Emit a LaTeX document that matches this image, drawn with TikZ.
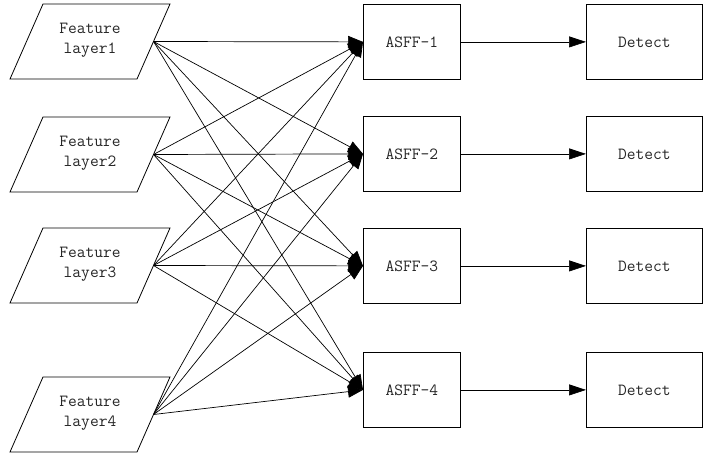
\documentclass[tikz,border=0pt]{standalone}
\usepackage{fontspec}
\usetikzlibrary{arrows.meta}
\begin{document}
\begin{tikzpicture}[x=1pt,y=-1pt,
  txt/.style={font=\ttfamily\fontsize{17}{20}\selectfont, align=center, text=black!85},
  box/.style={draw, line width=0.8pt, minimum width=97pt, minimum height=75pt, inner sep=0pt, txt},
  conn/.style={line width=0.7pt, -{Triangle[length=15pt,width=12pt]}},
  conn2/.style={line width=0.7pt, -{Triangle[length=17pt,width=11pt]}},
  para/.style={line width=0.8pt}]
\useasboundingbox (0,0) rectangle (703,454);
% feature layers
\foreach \i/\t in {1/4,2/117,3/228,4/377}{
  \draw[para] (43,\t) -- (170,\t) -- (137,\t+75) -- (10,\t+75) -- cycle;
  \node[txt] (f\i) at (90,\t+36) {Feature\\layer\i};
  \coordinate (o\i) at (153.5,\t+37.5);
}
% ASFF and Detect
\foreach \i/\t in {1/4,2/116,3/228,4/352}{
  \node[box, anchor=north west] (a\i) at (363,\t) {ASFF-\i};
  \node[box, anchor=north west, minimum width=116pt] (d\i) at (586,\t) {Detect};
  \draw[conn2] (a\i.east) -- (d\i.west);
}
\foreach \i in {1,...,4}{
  \foreach \j in {1,...,4}{
    \draw[conn] (o\i) -- (a\j.west);
  }
}
\end{tikzpicture}
\end{document}
